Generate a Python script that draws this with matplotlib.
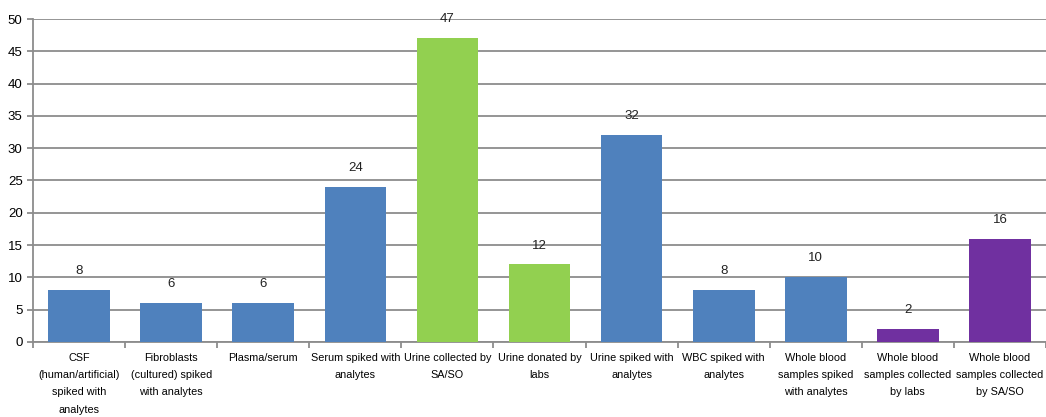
import matplotlib
matplotlib.use("Agg")
import matplotlib.pyplot as plt
import numpy as np

# data
categories = [
    "CSF\n(human/artificial)\nspiked with\nanalytes",
    "Fibroblasts\n(cultured) spiked\nwith analytes",
    "Plasma/serum",
    "Serum spiked with\nanalytes",
    "Urine collected by\nSA/SO",
    "Urine donated by\nlabs",
    "Urine spiked with\nanalytes",
    "WBC spiked with\nanalytes",
    "Whole blood\nsamples spiked\nwith analytes",
    "Whole blood\nsamples collected\nby labs",
    "Whole blood\nsamples collected\nby SA/SO",
]
counts = [8, 6, 6, 24, 47, 12, 32, 8, 10, 2, 16]
groups = ["blue", "blue", "blue", "blue", "green", "green", "blue", "blue", "blue", "purple", "purple"]

palette = {"blue": "#4F81BD", "green": "#92D050", "purple": "#7030A0"}
plt.rcParams["font.family"] = ["Liberation Sans", "DejaVu Sans"]

fig = plt.figure(figsize=(10.46, 4.17), dpi=100)
ax = fig.add_axes([0.0316, 0.18, 0.9684, 0.7744])

x = np.arange(len(counts))
bars = ax.bar(x, counts, width=0.67, color=[palette[g] for g in groups], zorder=3)
for b, v in zip(bars, counts):
    ax.text(b.get_x() + b.get_width() / 2, v + 2.0, str(v), ha="center", va="bottom",
            fontsize=9.5, color="#222222")

ax.set_xlim(-0.5, len(counts) - 0.5)
ax.set_ylim(0, 50)
ax.set_yticks(np.arange(0, 51, 5))
ax.grid(axis="y", color="#8C8C8C", linewidth=1.3, zorder=0)

ax.set_xticks(x)
ax.set_xticklabels(categories, fontsize=7.8, linespacing=1.9)
ax.set_xticks(np.arange(-0.5, len(counts)), minor=True)
ax.tick_params(axis="x", which="major", length=0, pad=8)
ax.tick_params(axis="x", which="minor", length=4, color="#8C8C8C", width=1.3)
ax.tick_params(axis="y", length=4, color="#8C8C8C", width=1.3, labelsize=9.5)

for side in ["top", "right"]:
    ax.spines[side].set_visible(False)
for side in ["left", "bottom"]:
    ax.spines[side].set_color("#8C8C8C")
    ax.spines[side].set_linewidth(1.3)

fig.savefig("out.png", dpi=100)
